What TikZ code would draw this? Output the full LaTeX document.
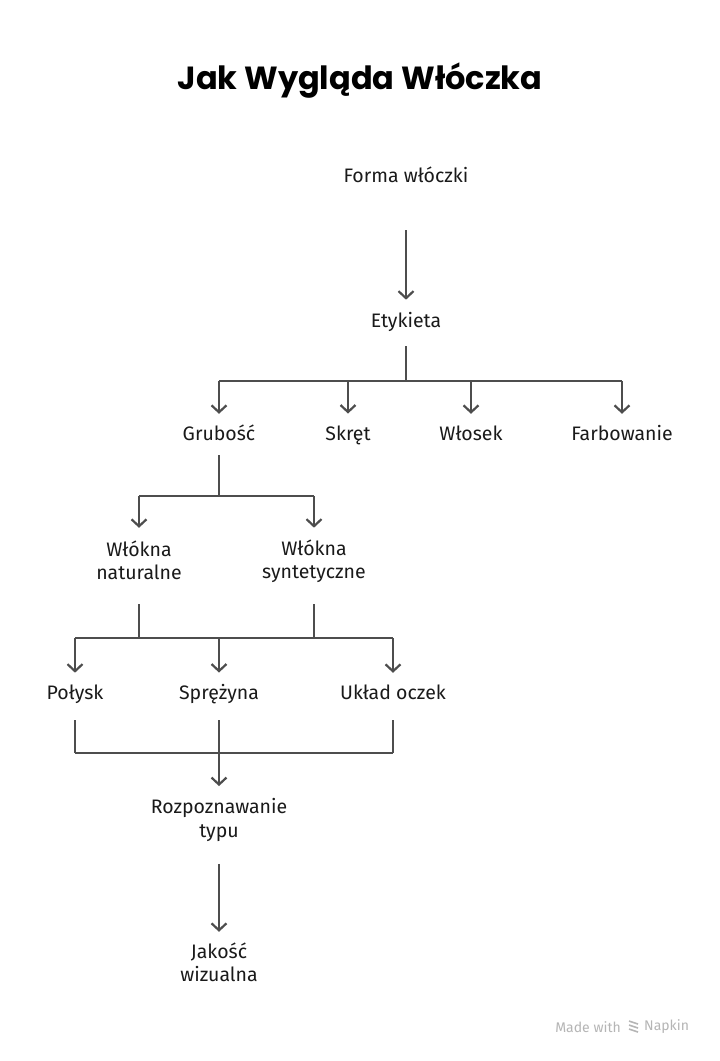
\documentclass[tikz,border=0pt]{standalone}
\usepackage{fontspec}
\setmainfont{Fira Sans}
\newfontfamily\titlefont{Poppins}
\usetikzlibrary{positioning, calc, arrows.meta}

\definecolor{linegray}{HTML}{4D4D4D}
\definecolor{textblack}{HTML}{1A1A1A}
\definecolor{footgray}{HTML}{B5B5B5}

\newcommand\lblstrut{\rule[-3.9pt]{0pt}{23pt}}

\tikzset{
    lbl/.style={font=\fontsize{19.5}{23}\selectfont, text=textblack, align=center, inner sep=0pt},
    link/.style={draw=linegray, line width=2.2pt},
    arr/.style={link, -{Straight Barb[length=7pt,width=15pt,line width=2.2pt]}}
}

\begin{document}
\begin{tikzpicture}[x=1pt, y=-1pt]
    \useasboundingbox[fill=white] (0,0) rectangle (720,1061);

    % Title
    \node[font=\titlefont\bfseries\fontsize{32}{38}\selectfont, text=black] (title) at (360,81) {Jak Wygląda Włóczka};

    % Nodes
    \node[lbl] (forma) at (406,175) {\lblstrut Forma włóczki};
    \node[lbl] (etyk) at (406,320) {\lblstrut Etykieta};
    \node[lbl] (grub) at (219,433) {\lblstrut Grubość};
    \node[lbl] (skret) at (348,433) {\lblstrut Skręt};
    \node[lbl] (wlosek) at (471,433) {\lblstrut Włosek};
    \node[lbl] (farb) at (622,433) {\lblstrut Farbowanie};
    \node[lbl] (natur) at (139,560) {\lblstrut Włókna\\\lblstrut naturalne};
    \node[lbl] (synt) at (314,560) {\lblstrut Włókna\\\lblstrut syntetyczne};
    \node[lbl] (polysk) at (75,692) {\lblstrut Połysk};
    \node[lbl] (sprez) at (219,692) {\lblstrut Sprężyna};
    \node[lbl] (uklad) at (393,692) {\lblstrut Układ oczek};
    \node[lbl] (rozp) at (219,818) {\lblstrut Rozpoznawanie\\\lblstrut typu};
    \node[lbl] (jakosc) at (219,962) {\lblstrut Jakość\\\lblstrut wizualna};

    % Junctions
    \coordinate (j1) at (406,381);
    \coordinate (j2) at (219,496);
    \coordinate (j3l) at (139,638);
    \coordinate (j3r) at (314,638);
    \coordinate (j4) at (219,753);

    % Forma -> Etykieta
    \draw[arr, shorten <=43.5pt, shorten >=8.5pt] (forma) -- (etyk);

    % Etykieta -> four features
    \draw[link, shorten <=14.5pt] (etyk) -- (j1);
    \draw[link] (grub |- j1) -- (farb |- j1);
    \foreach \n in {grub, skret, wlosek, farb}
        \draw[arr, shorten >=7.5pt] (\n |- j1) -- (\n.north);

    % Grubosc -> fibres
    \draw[link, shorten <=10.5pt] (grub) -- (j2);
    \draw[link] (natur |- j2) -- (synt |- j2);
    \foreach \n in {natur, synt}
        \draw[arr, shorten >=9pt] (\n |- j2) -- (\n.north);

    % Fibres -> properties
    \draw[link, shorten <=21pt] (natur) -- (j3l);
    \draw[link, shorten <=21pt] (synt) -- (j3r);
    \draw[link] (polysk |- j3l) -- (uklad |- j3l);
    \foreach \n in {polysk, sprez, uklad}
        \draw[arr, shorten >=7.5pt] (\n |- j3l) -- (\n.north);

    % Properties -> Rozpoznawanie
    \foreach \n in {polysk, sprez, uklad}
        \draw[link, shorten <=16.5pt] (\n) -- (\n |- j4);
    \draw[link] (polysk |- j4) -- (uklad |- j4);
    \draw[arr, shorten >=8pt] (j4) -- (rozp.north);

    % Rozpoznawanie -> Jakosc
    \draw[arr, shorten <=22pt, shorten >=7pt] (rozp) -- (jakosc);

    % Footer
    \node[font=\fontsize{14}{16}\selectfont, text=footgray, anchor=east, inner sep=0pt] (made) at (621,1027) {Made with};
    \node[font=\fontsize{14}{16}\selectfont, text=footgray, anchor=west, inner sep=0pt] (napkin) at (644,1027) {Napkin};
    \foreach \dy in {-4,0,4}
        \draw[footgray, line width=1.6pt] ($(made.east)+(8,\dy-2)$) -- ++(9,3);
\end{tikzpicture}
\end{document}
